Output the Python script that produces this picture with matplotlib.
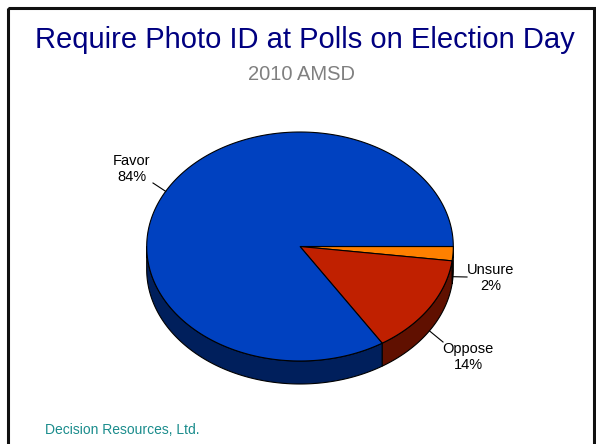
import numpy as np
import matplotlib
matplotlib.use("Agg")
import matplotlib.pyplot as plt
from matplotlib.patches import Polygon, Rectangle

plt.rcParams['font.family'] = ['Liberation Sans', 'DejaVu Sans']

# Survey results
categories = ["Unsure", "Oppose", "Favor"]
percents = [2, 14, 84]
top_colors = ["#FF8000", "#C02000", "#0041C0"]
side_colors = ["#804000", "#601000", "#001F5C"]

title = "Require Photo ID at Polls on Election Day"
subtitle = "2010 AMSD"
footer = "Decision Resources, Ltd."

W, H = 596, 444
fig = plt.figure(figsize=(W / 100, H / 100), dpi=100)
ax = fig.add_axes([0, 0, 1, 1])
ax.set_xlim(0, W)
ax.set_ylim(H, 0)
ax.axis("off")

# Frame around the slide
ax.add_patch(Rectangle((7.5, 8.5), 586.5, 460, fill=False, ec="#111111", lw=2.2,
                       clip_on=False))

# Pie geometry (screen units, y downward)
cx, cy, rx, ry, depth = 300, 246.5, 153.3, 114.5, 23


def arc(t0, t1, dy=0.0, n=200):
    t = np.radians(np.linspace(t0, t1, n))
    return np.column_stack([cx + rx * np.cos(t), cy + dy + ry * np.sin(t)])


total = float(sum(percents))
bounds = np.concatenate([[0], np.cumsum(percents) / total * 360.0])

# Side walls of the front half
for i in range(len(percents)):
    a0, a1 = bounds[i], bounds[i + 1]
    s0, s1 = max(a0, 0), min(a1, 180)
    if s1 <= s0:
        continue
    top = arc(s0, s1)
    bot = arc(s1, s0, dy=depth)
    ax.add_patch(Polygon(np.vstack([top, bot]), closed=True,
                         fc=side_colors[i], ec="black", lw=0.8))

# Top faces
for i in range(len(percents)):
    a0, a1 = bounds[i], bounds[i + 1]
    pts = np.vstack([[cx, cy], arc(a0, a1), [cx, cy]])
    ax.add_patch(Polygon(pts, closed=True, fc=top_colors[i], ec="black",
                         lw=0.8, joinstyle="miter"))

# Labels with leader lines
label_pos = {"Unsure": (491, 278), "Oppose": (468, 357), "Favor": (132, 169)}
leader_end = {"Unsure": (467, 277), "Oppose": (443, 342), "Favor": (153, 183)}
for i, cat in enumerate(categories):
    mid = (bounds[i] + bounds[i + 1]) / 2
    t = np.radians(mid)
    x0 = cx + rx * np.cos(t)
    y0 = cy + ry * np.sin(t) + (depth if 0 <= mid <= 180 else 0)
    x1, y1 = leader_end[cat]
    ax.plot([x0, x1], [y0, y1], color="black", lw=0.8)
    lx, ly = label_pos[cat]
    ax.text(lx, ly, f"{cat}\n{percents[i]}%", ha="center", va="center",
            fontsize=10.5, color="black", linespacing=1.15)

ax.text(W / 2 + 7, 39.5, title, ha="center", va="center", fontsize=21,
        color="#000080")
ax.text(W / 2 + 3, 74, subtitle, ha="center", va="center", fontsize=14.5,
        color="#808080")
ax.text(45, 430, footer, ha="left", va="center", fontsize=10,
        color="#1A8C8C")

fig.savefig("out.png", dpi=100)
